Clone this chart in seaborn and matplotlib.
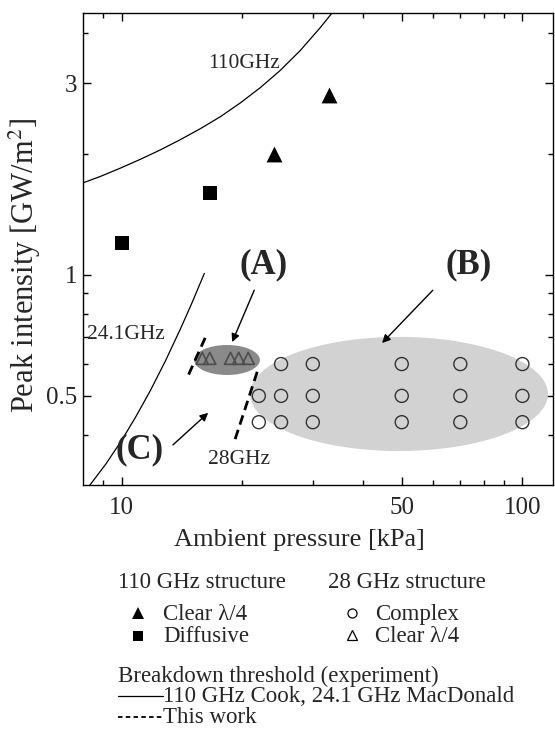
import matplotlib
matplotlib.use("Agg")
import matplotlib.pyplot as plt
import numpy as np
import pandas as pd
import seaborn as sns
from matplotlib.patches import Ellipse
from matplotlib.lines import Line2D
from matplotlib.ticker import FixedLocator, FixedFormatter, NullFormatter

# ---------------- data ----------------
# 110 GHz structure
tri110_pressure = [24, 33]
tri110_intensity = [2.0, 2.8]
sq110_pressure = [10, 16.6]
sq110_intensity = [1.2, 1.6]

# 28 GHz structure
circ28_pressure = [25, 30, 50, 70, 100,
                   22, 25, 30, 50, 70, 100,
                   22, 25, 30, 50, 70, 100]
circ28_intensity = [0.60, 0.60, 0.60, 0.60, 0.60,
                    0.50, 0.50, 0.50, 0.50, 0.50, 0.50,
                    0.43, 0.43, 0.43, 0.43, 0.43, 0.43]
tri28_pressure = [15.9, 16.6, 18.7, 19.6, 20.7]
tri28_intensity = [0.62, 0.62, 0.62, 0.62, 0.62]

# breakdown thresholds
cook_pressure = [8.00, 8.87, 9.94, 11.15, 12.5, 14.02, 15.72, 17.63,
                 19.77, 22.17, 24.86, 27.88, 31.26, 33.7]
cook_intensity = [1.694, 1.760, 1.845, 1.941, 2.048, 2.172, 2.312, 2.476,
                  2.679, 2.924, 3.227, 3.615, 4.119, 4.52]
macd_pressure = [8.32, 9.12, 9.94, 10.83, 11.81, 12.87, 14.02, 15.02, 16.09]
macd_intensity = [0.299, 0.3374, 0.3835, 0.4419, 0.5163, 0.6113, 0.7334,
                  0.8566, 1.009]
work_a_pressure = [14.7, 16.3]
work_a_intensity = [0.565, 0.71]
work_28_pressure = [21.8, 19.1]
work_28_intensity = [0.574, 0.384]

x_major = [10, 50, 100]
x_major_labels = ["10", "50", "100"]
x_minor = [9, 20, 30, 40, 60, 70, 80, 90]
y_major = [0.5, 1, 3]
y_major_labels = ["0.5", "1", "3"]
y_minor = [0.4, 0.6, 0.7, 0.8, 0.9, 2, 4]

# ---------------- style ----------------
sns.set_theme(style="ticks")
plt.rcParams["font.family"] = ["Liberation Serif", "DejaVu Serif"]
plt.rcParams["mathtext.fontset"] = "stix"
plt.rcParams["axes.linewidth"] = 1.0

W, H = 555, 729
fig = plt.figure(figsize=(W / 100, H / 100), dpi=100)
ax = fig.add_axes([82.7 / W, (H - 485) / H, 470 / W, 471.7 / H])
ax.set_xscale("log")
ax.set_yscale("log")
ax.set_xlim(8.0, 119)
ax.set_ylim(0.30, 4.48)

# shaded regions (A) and (B)
ax.add_patch(Ellipse((0.673, 0.193), 0.634, 0.242, transform=ax.transAxes,
                     facecolor="#d2d2d2", edgecolor="none", zorder=1))
ax.add_patch(Ellipse((0.307, 0.265), 0.140, 0.0636, transform=ax.transAxes,
                     facecolor="#8a8a8a", edgecolor="none", zorder=1))

# threshold curves
df_cook = pd.DataFrame({"p": cook_pressure, "i": cook_intensity})
df_macd = pd.DataFrame({"p": macd_pressure, "i": macd_intensity})
sns.lineplot(data=df_cook, x="p", y="i", sort=False, estimator=None, ax=ax,
             color="black", lw=0.9, zorder=2)
sns.lineplot(data=df_macd, x="p", y="i", sort=False, estimator=None, ax=ax,
             color="black", lw=0.9, zorder=2)
df_wa = pd.DataFrame({"p": work_a_pressure, "i": work_a_intensity})
df_w28 = pd.DataFrame({"p": work_28_pressure, "i": work_28_intensity})
for d in (df_wa, df_w28):
    sns.lineplot(data=d, x="p", y="i", sort=False, estimator=None, ax=ax,
                 color="black", lw=2.0, zorder=4, dashes=False,
                 linestyle=(0, (3.5, 2)))

# markers
sns.scatterplot(x=tri110_pressure, y=tri110_intensity, marker="^", s=130,
                color="black", edgecolor="black", linewidth=0, ax=ax, zorder=5)
sns.scatterplot(x=sq110_pressure, y=sq110_intensity, marker="s", s=90,
                color="black", edgecolor="black", linewidth=0, ax=ax, zorder=5)
sns.scatterplot(x=circ28_pressure, y=circ28_intensity, marker="o", s=88,
                facecolor="none", edgecolor="#333333", linewidth=1.0, ax=ax, zorder=5)
sns.scatterplot(x=tri28_pressure, y=tri28_intensity, marker="^", s=75,
                facecolor="none", edgecolor="#4d4d4d", linewidth=1.2, ax=ax, zorder=5)

# labels in the plot
ax.text(0.267, 0.893, "110GHz", transform=ax.transAxes, fontsize=15.5,
        ha="left", va="center")
ax.text(0.009, 0.318, "24.1GHz", transform=ax.transAxes, fontsize=15.5,
        ha="left", va="center")
ax.text(0.267, 0.055, "28GHz", transform=ax.transAxes, fontsize=15.5,
        ha="left", va="center")
for lab, xy in (("(A)", (0.384, 0.466)), ("(B)", (0.822, 0.466)), ("(C)", (0.122, 0.074))):
    ax.text(*xy, lab, transform=ax.transAxes, fontsize=25, fontweight="bold",
            ha="center", va="center", zorder=6)
arrow = dict(arrowstyle="-|>", color="black", lw=1.0, mutation_scale=12,
             shrinkA=0, shrinkB=0)
ax.annotate("", xy=(0.318, 0.303), xytext=(0.365, 0.413),
            xycoords="axes fraction", textcoords="axes fraction", arrowprops=arrow)
ax.annotate("", xy=(0.637, 0.301), xytext=(0.745, 0.413),
            xycoords="axes fraction", textcoords="axes fraction", arrowprops=arrow)
ax.annotate("", xy=(0.267, 0.153), xytext=(0.192, 0.085),
            xycoords="axes fraction", textcoords="axes fraction", arrowprops=arrow)

# ticks
ax.xaxis.set_major_locator(FixedLocator(x_major))
ax.xaxis.set_major_formatter(FixedFormatter(x_major_labels))
ax.xaxis.set_minor_locator(FixedLocator(x_minor))
ax.xaxis.set_minor_formatter(NullFormatter())
ax.yaxis.set_major_locator(FixedLocator(y_major))
ax.yaxis.set_major_formatter(FixedFormatter(y_major_labels))
ax.yaxis.set_minor_locator(FixedLocator(y_minor))
ax.yaxis.set_minor_formatter(NullFormatter())
ax.tick_params(which="both", direction="in", top=True, right=True, width=1.0,
               color="black")
ax.tick_params(which="major", length=6, labelsize=18)
ax.tick_params(which="minor", length=3.6)
ax.tick_params(axis="x", which="major", pad=9)
ax.tick_params(axis="y", which="major", pad=4)

ax.set_xlabel("Ambient pressure [kPa]", fontsize=19)
ax.set_ylabel("Peak intensity [GW/m$^{2}$]", fontsize=22)
ax.xaxis.set_label_coords(0.461, -0.093)
ax.yaxis.set_label_coords(-0.084, 0.466)
for sp in ax.spines.values():
    sp.set_color("black")
    sp.set_linewidth(1.0)

# ---------------- legend block (figure pixel coordinates) ----------------
def fx(px):
    return px / W

def fy(py):
    return 1 - py / H

LFS = 16.5
fig.text(fx(118), fy(588), "110 GHz structure", fontsize=LFS, va="baseline")
fig.text(fx(328), fy(588), "28 GHz structure", fontsize=LFS, va="baseline")
fig.text(fx(163), fy(620), "Clear \u03bb/4", fontsize=LFS, va="baseline")
fig.text(fx(163), fy(642), "Diffusive", fontsize=LFS, va="baseline")
fig.text(fx(375), fy(620), "Complex", fontsize=LFS, va="baseline")
fig.text(fx(375), fy(642), "Clear \u03bb/4", fontsize=LFS, va="baseline")
fig.text(fx(118), fy(682), "Breakdown threshold (experiment)", fontsize=LFS, va="baseline")
fig.text(fx(163), fy(702), "110 GHz Cook, 24.1 GHz MacDonald", fontsize=LFS, va="baseline")
fig.text(fx(163), fy(723), "This work", fontsize=LFS, va="baseline")

fig.add_artist(Line2D([fx(138)], [fy(613)], marker="^", ms=8.5, color="black",
                      mew=0, transform=fig.transFigure))
fig.add_artist(Line2D([fx(138)], [fy(636)], marker="s", ms=7.2, color="black",
                      mew=0, transform=fig.transFigure))
fig.add_artist(Line2D([fx(352)], [fy(613)], marker="o", ms=6.5, mfc="none",
                      mec="black", mew=0.9, transform=fig.transFigure))
fig.add_artist(Line2D([fx(352)], [fy(635)], marker="^", ms=7, mfc="none",
                      mec="black", mew=0.9, transform=fig.transFigure))
fig.add_artist(Line2D([fx(118), fx(163)], [fy(696), fy(696)], color="black",
                      lw=0.9, transform=fig.transFigure))
fig.add_artist(Line2D([fx(118), fx(163)], [fy(717), fy(717)], color="black",
                      lw=1.3, linestyle=(0, (2.5, 1.8)), transform=fig.transFigure))

fig.savefig("out.png", dpi=100)
